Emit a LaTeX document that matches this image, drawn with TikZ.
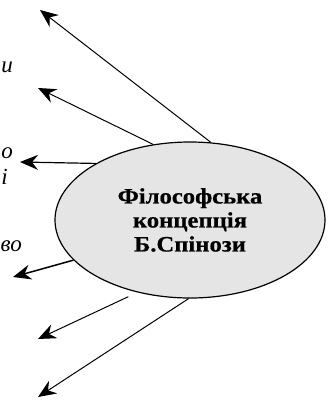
\documentclass[tikz,border=0pt]{standalone}
\usepackage{fontspec}
\setmainfont{Liberation Serif}
\newfontfamily\ovalfont[FakeStretch=1.12,FakeBold=0.6]{Liberation Serif}
\usetikzlibrary{shapes.geometric,arrows.meta}

\begin{document}
\begin{tikzpicture}[x=1pt, y=-1pt,
	arr/.style={-{Stealth[length=18pt,width=15pt,inset=6pt]}, line width=1pt},
	frag/.style={anchor=base east, inner sep=0pt, font=\fontsize{23}{26}\selectfont\itshape}]
	\useasboundingbox (0,0) rectangle (336,400);
	\clip (0,0) rectangle (336,400);
	\node [ellipse, draw, line width=1.2pt, fill=gray!20, minimum width=270pt, minimum height=156pt, inner sep=0pt,
		align=center, font=\ovalfont\fontsize{22}{24}\selectfont\bfseries] (fc) at (190,220)
		{Філософська\\концепція\\Б.Спінози};
	% tips of the arrows
	\coordinate (t1) at (40,10);
	\coordinate (t2) at (38,88);
	\coordinate (t3) at (20,162);
	\coordinate (t4) at (13,277);
	\coordinate (t5) at (38,339);
	\coordinate (t6) at (38,397);
	\draw [arr] (fc.75) -- (t1);
	\draw [arr] (fc.116) -- (t2);
	\draw [arr, line width=1.2pt] (fc.149) -- (t3);
	\draw [arr, line width=1.5pt] (fc.199) -- (t4);
	\draw [arr, shorten <=10pt] (fc.234) -- (t5);
	\draw [arr] (fc.269) -- (t6);
	% cut-off captions on the left
	\node [frag] (c1) at (13,72) {и};
	\node [frag] (c2) at (13,158) {о};
	\node [frag] (c3) at (8,184) {і};
	\node [frag] (c4) at (22,251) {во};
\end{tikzpicture}
\end{document}
